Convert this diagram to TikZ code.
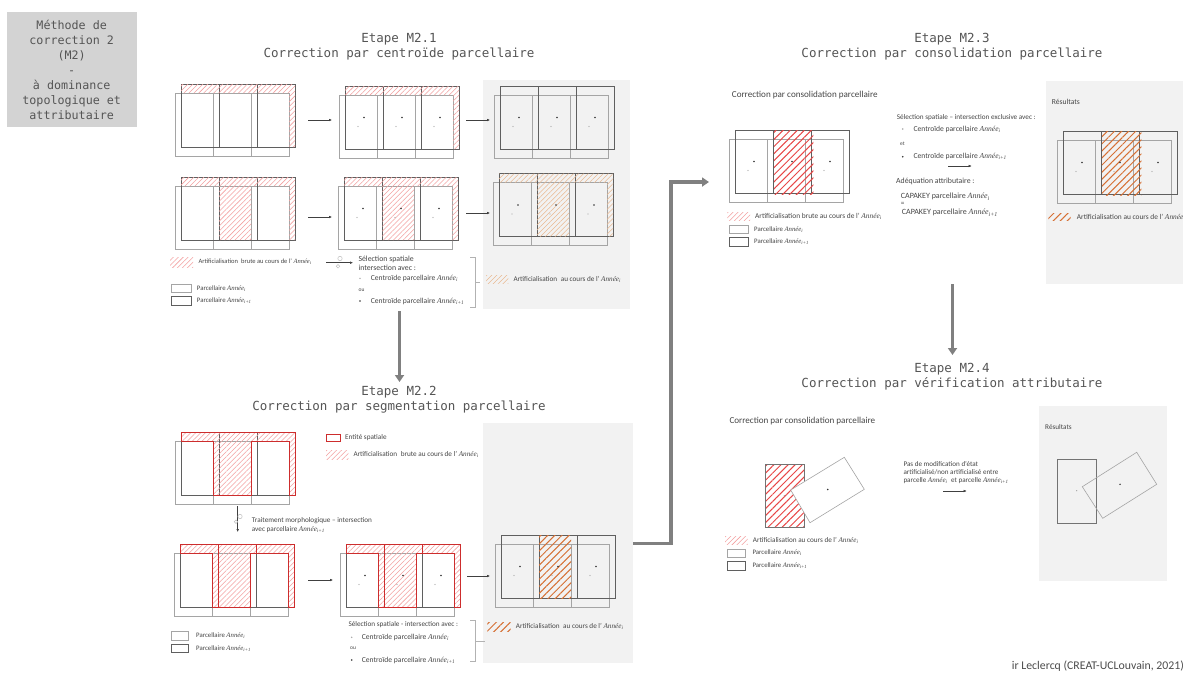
\documentclass[tikz,border=0pt]{standalone}
\usepackage{fontspec}
\setmainfont{Carlito}
\newfontfamily\monofont{DejaVu Sans Mono}
\newfontfamily\annfont{Liberation Serif}
\usetikzlibrary{arrows.meta,patterns.meta}

\definecolor{boxgray}{RGB}{211,211,211}
\definecolor{panelgray}{RGB}{242,242,242}
\definecolor{parcdark}{RGB}{95,95,95}
\definecolor{parclight}{RGB}{165,165,165}
\definecolor{entityred}{RGB}{205,45,45}
\definecolor{hatchpink}{RGB}{244,160,160}
\definecolor{hatchred}{RGB}{232,70,70}
\definecolor{hatchtan}{RGB}{234,185,145}
\definecolor{hatchorange}{RGB}{214,112,52}
\definecolor{textgray}{RGB}{70,70,70}
\definecolor{titlegray}{RGB}{85,85,85}
\definecolor{arrowgray}{RGB}{128,128,128}

\newcommand{\annee}[1]{{\annfont\itshape Année}\textsubscript{\annfont\itshape #1}}

\tikzset{
  method/.style={fill=boxgray, minimum width=130pt, minimum height=115.6pt, align=center,
    font=\monofont\fontsize{11.7}{15}\selectfont, text=titlegray, inner sep=0pt},
  etape/.style={align=center, font=\monofont\fontsize{12.5}{15}\selectfont, text=titlegray, inner sep=0pt},
  panel/.style={fill=panelgray, inner sep=0pt},
  note/.style={anchor=west, inner sep=0pt, font=\fontsize{7.2}{8.7}\selectfont, text=textgray},
  note big/.style={note, font=\fontsize{7.6}{9}\selectfont},
  note small/.style={note, font=\fontsize{6.8}{8}\selectfont},
  head/.style={anchor=west, inner sep=0pt, font=\fontsize{9.1}{11}\selectfont, text=textgray},
  parcel i/.style={draw=parclight, line width=0.6pt},
  parcel next/.style={draw=parcdark, line width=0.7pt},
  dot i/.style={fill=parclight},
  dot next/.style={fill=black!80},
  entity/.style={draw=entityred, line width=1pt},
  hatch pink/.style={pattern={Lines[angle=45,distance=3.5pt,line width=0.55pt]}, pattern color=hatchpink},
  hatch tan/.style={pattern={Lines[angle=45,distance=3.5pt,line width=0.55pt]}, pattern color=hatchtan},
  hatch red/.style={pattern={Lines[angle=45,distance=5pt,line width=1pt]}, pattern color=hatchred},
  hatch orange/.style={pattern={Lines[angle=45,distance=5pt,line width=1pt]}, pattern color=hatchorange},
  flow/.style={draw=black!75, line width=0.5pt, -{Latex[length=3pt,width=2.6pt]}},
  bigarrow/.style={draw=arrowgray, line width=3.2pt, -{Triangle[length=7pt,width=9pt]}},
  gear/.style={draw=black!25, line width=0.5pt},
  bracket/.style={draw=black!30, line width=0.5pt},
  % parcels of year i (shifted) and year i+1
  parcels/.pic={
    \draw[parcel i] (-6,9) rectangle (108,72) (32,9) -- (32,72) (70,9) -- (70,72);
    \draw[parcel next] (0,0) rectangle (114,63) (38,0) -- (38,63) (76,0) -- (76,63);
  },
  centroids/.pic={
    \foreach \cx in {19,57,95} {
      \fill[dot next] (\cx,31.5) circle (0.8);
      \fill[dot i] ({\cx-6},40.5) circle (0.7);
    }
  },
}

\begin{document}
\begin{tikzpicture}[x=1pt,y=-1pt]
\path[fill=white, use as bounding box] (0,0) rectangle (1183,673);

% TEXT
\node[method] (method_box) at (71.7,69.5) {Méthode de\\correction 2\\(M2)\\-\\à dominance\\topologique et\\attributaire};
\node[etape] (step_21) at (399,46.5) {Etape M2.1\\Correction par centroïde parcellaire};
\node[etape] (step_22) at (399,400) {Etape M2.2\\Correction par segmentation parcellaire};
\node[etape] (step_23) at (952,46.5) {Etape M2.3\\Correction par consolidation parcellaire};
\node[etape] (step_24) at (952,377) {Etape M2.4\\Correction par vérification attributaire};

% result panels
\node[panel, minimum width=147pt, minimum height=229pt] (res_21) at (556.2,194.5) {};
\node[panel, minimum width=150pt, minimum height=240pt] (res_22) at (557.7,543.3) {};
\node[panel, minimum width=150pt, minimum height=203pt] (res_23) at (1121,182) {};
\node[panel, minimum width=128pt, minimum height=175pt] (res_24) at (1102.5,493.3) {};

% big arrows between steps
\coordinate (out_21) at (399.5,311);
\coordinate (in_22) at (399.5,382);
\draw[bigarrow] (out_21) -- (in_22);
\coordinate (bend_23) at (671,182);
\coordinate (in_23) at (709,182);
\draw[bigarrow] (res_22.east) -| (bend_23) -- (in_23);
\coordinate (out_23) at (952.5,284);
\coordinate (in_24) at (952.5,355);
\draw[bigarrow] (out_23) -- (in_24);

%%%% Etape M2.1
\begin{scope}[shift={(181,84)}] % raw
\pic {parcels};
\fill[hatch pink] (0,0) -| (114,63) -- (108,63) |- (0,9) -- cycle;
\end{scope}
\begin{scope}[shift={(345,86)}]
\pic {parcels};
\fill[hatch pink] (0,0) -| (114,63) -- (108,63) |- (0,9) -- cycle;
\pic {centroids};
\end{scope}
\begin{scope}[shift={(500,86)}]
\pic {parcels};
\pic {centroids};
\end{scope}
\begin{scope}[shift={(181,177)}] % second row
\pic {parcels};
\fill[hatch pink] (0,0) -| (114,63) -- (108,63) |- (70,9) -- (70,63) -- (38,63) |- (0,9) -- cycle;
\end{scope}
\begin{scope}[shift={(344,177)}]
\pic {parcels};
\fill[hatch pink] (0,0) -| (114,63) -- (108,63) |- (70,9) -- (70,63) -- (38,63) |- (0,9) -- cycle;
\pic {centroids};
\end{scope}
\begin{scope}[shift={(499,173.5)}]
\pic {parcels};
\fill[hatch tan] (0,0) -| (114,63) -- (108,63) |- (70,9) -- (70,63) -- (38,63) |- (0,9) -- cycle;
\pic {centroids};
\end{scope}
\draw[flow] (308,120) -- (332,120);
\draw[flow] (466,120) -- (490,120);
\draw[flow] (308,217) -- (332,217);
\draw[flow] (466,213) -- (490,213);

% legend M2.1
\fill[hatch pink] (170,257) rectangle (193,267);
\node[note, font=\fontsize{6.5}{8}\selectfont] (l21_brute) at (198.3,261.7) {Artificialisation\enspace brute au cours de l'~\annee{i}};
\draw[flow] (326,262.7) -- (353,262.7);
\draw[gear] (340,258.5) circle (2.2) (338,266.3) circle (1.8);
\node[note, align=left, font=\fontsize{7.8}{8.7}\selectfont] (l21_sel) at (358.3,263.3) {Sélection spatiale\\intersection avec :};
\fill[dot i] (360,278.3) circle (0.8);
\node[note big] (l21_ci) at (370.7,278.3) {Centroïde parcellaire \annee{i}};
\node[note, font=\fontsize{5.5}{6}\selectfont] (l21_ou) at (358.5,290) {ou};
\fill[dot next] (360,301) circle (0.9);
\node[note big] (l21_cn) at (370.7,301) {Centroïde parcellaire \annee{i+1}};
\draw[bracket] (470,257) -| (475,307) -- (470,307) (475,282) -- (480,282);
\draw[parcel i] (171.7,284.3) rectangle (191.7,292.7);
\node[note small] (l21_pi) at (196.7,288.5) {Parcellaire \annee{i}};
\draw[parcel next] (171.7,296) rectangle (191.7,305);
\node[note small] (l21_pn) at (196.7,300.5) {Parcellaire \annee{i+1}};
\fill[hatch tan] (486,275) rectangle (508.3,283.3);
\node[note] (l21_art) at (513.3,279.5) {Artificialisation\enspace au cours de l'~\annee{i}};

%%%% Etape M2.2
\begin{scope}[shift={(181,432)}] % spatial entity
\pic {parcels};
\draw[entity, hatch pink] (0,0) -| (114,63) -- (108,63) |- (70,9) -- (70,63) -- (32,63) |- (0,9) -- cycle;
\end{scope}
\begin{scope}[shift={(180,544)}] % split by parcels i+1
\pic {parcels};
\draw[entity, hatch pink] (0,0) -- (38,0) -- (38,63) -- (32,63) |- (0,9) -- cycle;
\draw[entity, hatch pink] (38,0) -- (76,0) -- (76,9) -| (70,63) -- (38,63) -- cycle;
\draw[entity, hatch pink] (76,0) -| (114,63) -- (108,63) |- (76,9) -- cycle;
\end{scope}
\begin{scope}[shift={(346,544)}]
\pic {parcels};
\draw[entity, hatch pink] (0,0) -- (38,0) -- (38,63) -- (32,63) |- (0,9) -- cycle;
\draw[entity, hatch pink] (38,0) -- (76,0) -- (76,9) -| (70,63) -- (38,63) -- cycle;
\draw[entity, hatch pink] (76,0) -| (114,63) -- (108,63) |- (76,9) -- cycle;
\pic {centroids};
\end{scope}
\begin{scope}[shift={(501,535)}]
\pic {parcels};
\fill[hatch orange] (38,0) rectangle (70,63);
\pic {centroids};
\end{scope}
\draw[flow] (237.7,506) -- (237.7,532);
\draw[gear] (240,516.5) circle (2.2) (236,521.7) circle (1.8);
\draw[flow] (308,580) -- (333,580);
\draw[flow] (467,576) -- (490,576);

% legend M2.2
\draw[entity, line width=0.9pt] (326.7,434) rectangle (340,441.7);
\node[note] (l22_ent) at (345,437.6) {Entité spatiale};
\fill[hatch pink] (326,450) rectangle (348.3,459.3);
\node[note] (l22_brute) at (353.3,454.3) {Artificialisation\enspace brute au cours de l'~\annee{i}};
\node[note, align=left, font=\fontsize{7.2}{9.3}\selectfont] (l22_morph) at (251.7,524.8) {Traitement morphologique – intersection\\avec parcellaire \annee{i+1}};
\draw[parcel i] (171.7,631.7) rectangle (188.3,640);
\node[note small] (l22_pi) at (196,636) {Parcellaire \annee{i}};
\draw[parcel next] (171.7,644) rectangle (188.3,652.7);
\node[note small] (l22_pn) at (196,648.3) {Parcellaire \annee{i+1}};
\node[note] (l22_sel) at (348.3,625) {Sélection spatiale - intersection avec :};
\fill[dot i] (351.7,637.3) circle (0.8);
\node[note big] (l22_ci) at (361.7,637.3) {Centroïde parcellaire \annee{i}};
\node[note, font=\fontsize{5.5}{6}\selectfont] (l22_ou) at (350,648.5) {ou};
\fill[dot next] (351.7,660) circle (0.9);
\node[note big] (l22_cn) at (361.7,660) {Centroïde parcellaire \annee{i+1}};
\draw[bracket] (470,620) -| (475,661.7) -- (470,661.7) (475,641.7) -- (485,641.7);
\fill[hatch orange] (487.3,622.7) rectangle (510.7,631.7);
\node[note] (l22_art) at (515.7,626.9) {Artificialisation\enspace au cours de l'~\annee{i}};

%%%% Etape M2.3
\node[head] (h_23) at (731.7,95) {Correction par consolidation parcellaire};
\begin{scope}[shift={(735,130)}, scale=1.03]
\pic {parcels};
\fill[hatch red] (38,0) rectangle (76,63);
\pic {centroids};
\end{scope}
\begin{scope}[shift={(1063,131)}, scale=1.03]
\pic {parcels};
\fill[hatch orange] (38,0) rectangle (76,63);
\pic {centroids};
\end{scope}
\fill[hatch pink] (727.3,212.7) rectangle (750,220.7);
\node[note, font=\fontsize{7.4}{9}\selectfont] (l23_brute) at (755,216.5) {Artificialisation brute au cours de l'~\annee{i}};
\draw[parcel i] (729.3,225) rectangle (748.3,233.3);
\node[note small] (l23_pi) at (754,229.3) {Parcellaire \annee{i}};
\draw[parcel next] (729.3,237.3) rectangle (748.3,246.7);
\node[note small] (l23_pn) at (754,241.9) {Parcellaire \annee{i+1}};
\node[note] (s23_sel) at (896.7,117.3) {Sélection spatiale – intersection exclusive avec :};
\fill[dot i] (902.7,129) circle (0.8);
\node[note big] (s23_ci) at (913.3,129) {Centroïde parcellaire \annee{i}};
\node[note, font=\fontsize{5.5}{6}\selectfont] (s23_et) at (900,143.3) {et};
\fill[dot next] (902.7,156.7) circle (0.9);
\node[note big] (s23_cn) at (913.3,156.7) {Centroïde parcellaire \annee{i+1}};
\draw[flow] (948.3,166) -- (971.7,166);
\node[note, font=\fontsize{7.8}{9}\selectfont] (s23_adeq) at (896,181.7) {Adéquation attributaire :};
\node[note, font=\fontsize{8}{9}\selectfont] (s23_ki) at (900.7,196.7) {CAPAKEY parcellaire \annee{i}};
\node[note] (s23_eq) at (900.7,203.8) {=};
\node[note, font=\fontsize{8}{9}\selectfont] (s23_kn) at (901.7,212.7) {CAPAKEY parcellaire \annee{i+1}};
\node[note, font=\fontsize{7.6}{9}\selectfont] (r23_title) at (1051.7,101.7) {Résultats};
\fill[hatch orange] (1048.3,213.3) rectangle (1070.7,220.7);
\node[note, font=\fontsize{7.4}{9}\selectfont] (r23_art) at (1076.7,216.9) {Artificialisation au cours de l'~\annee{i}};

%%%% Etape M2.4
\node[head] (h_24) at (729.3,421) {Correction par consolidation parcellaire};
\draw[draw=black!55, line width=0.7pt, hatch red] (765.7,464.3) rectangle (804.3,527.7);
\draw[parcel i, fill=white] (844.3,457.3) -- (864.3,489.3) -- (810,522.7) -- (790.7,490) -- cycle;
\fill[dot i] (784.3,495.7) circle (0.7);
\fill[dot next] (827.7,489.5) circle (0.8);
\fill[hatch pink] (725,536.7) rectangle (747.7,544.3);
\node[note] (l24_art) at (752.7,540.3) {Artificialisation au cours de l'~\annee{i}};
\draw[parcel i] (727.3,549) rectangle (745.7,557.3);
\node[note small] (l24_pi) at (752.3,552.8) {Parcellaire \annee{i}};
\draw[parcel next] (727.3,561) rectangle (745.7,570);
\node[note small] (l24_pn) at (752.3,565.3) {Parcellaire \annee{i+1}};
\node[note, align=left, font=\fontsize{7.1}{8.2}\selectfont] (s24_txt) at (903.3,472.8) {Pas de modification d'état\\artificialisé/non artificialisé entre\\parcelle \annee{i}\enspace et parcelle \annee{i+1}};
\draw[flow] (943.3,491) -- (966.7,491);
\node[note] (r24_title) at (1045,427.3) {Résultats};
\draw[draw=black!55, line width=0.7pt] (1057.7,459.3) rectangle (1096.7,523.3);
\draw[parcel i] (1136.7,452.3) -- (1156.7,484.3) -- (1102.7,518.3) -- (1082.3,486.7) -- cycle;
\fill[dot i] (1076.7,490.7) circle (0.7);
\fill[dot next] (1120,484.3) circle (0.8);

\node[anchor=base west, inner sep=0pt, font=\fontsize{11.8}{13}\selectfont, text=black!70] (credit) at (1011.7,669.5) {ir Leclercq (CREAT-UCLouvain, 2021)};
\end{tikzpicture}
\end{document}
